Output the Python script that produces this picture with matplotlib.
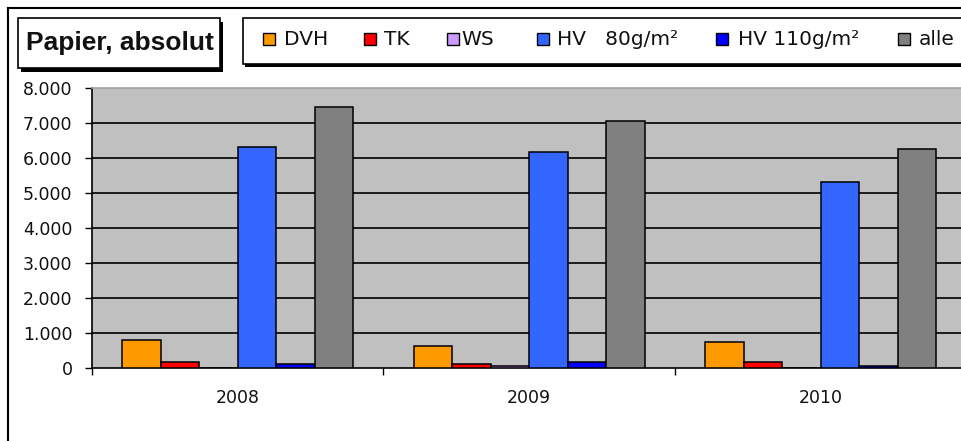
import numpy as np
import matplotlib
matplotlib.use("Agg")
import matplotlib.pyplot as plt
from matplotlib.patches import Rectangle
from matplotlib.lines import Line2D

# Daten
jahre = ["2008", "2009", "2010"]
serien = ["DVH", "TK", "WS", "HV   80g/m²", "HV 110g/m²", "alle"]
dvh = [790, 640, 730]
tk = [180, 120, 180]
ws = [0, 60, 0]
hv80 = [6320, 6160, 5300]
hv110 = [120, 170, 50]
alle = [7470, 7070, 6270]
farben = ["#FF9900", "#FF0000", "#CC99FF", "#3366FF", "#0000FF", "#808080"]
y_ticks = [0, 1000, 2000, 3000, 4000, 5000, 6000, 7000, 8000]
y_labels = ["0", "1.000", "2.000", "3.000", "4.000", "5.000", "6.000", "7.000", "8.000"]

W, H = 962, 441
fig = plt.figure(figsize=(W / 100, H / 100), dpi=100)
fig.patch.set_facecolor("white")


def fx(x):
    return x / W


def fy(y):
    return 1 - y / H


# Rahmen des Diagramms (nur links/oben sichtbar)
fig.add_artist(Line2D([fx(8), fx(W + 5)], [fy(8), fy(8)], color="black", lw=1.5))
fig.add_artist(Line2D([fx(8), fx(8)], [fy(8), fy(H + 5)], color="black", lw=1.5))

# Zeichenfläche, rechts über den Bildrand hinaus
ax = fig.add_axes([fx(92), fy(368), (966.5 - 92) / W, (368 - 88) / H])
ax.set_facecolor("#C0C0C0")

x = np.arange(len(jahre))
bw = 0.132
werte = [dvh, tk, ws, hv80, hv110, alle]
for i, (name, v) in enumerate(zip(serien, werte)):
    ax.bar(x + (i - 2.5) * bw, v, bw, color=farben[i], edgecolor="black",
           linewidth=1.1, zorder=3)

ax.set_xlim(-0.5, 2.5)
ax.set_ylim(0, 8000)
ax.set_yticks(y_ticks)
ax.set_yticklabels(y_labels)
for t in y_ticks[1:-1]:
    ax.axhline(t, color="black", lw=1.2, zorder=1)

ax.set_xticks([-0.5, 0.5, 1.5, 2.5])
ax.set_xticklabels([])
ax.set_xticks(x, minor=True)
ax.set_xticklabels(jahre, minor=True)
ax.tick_params(axis="x", which="major", length=5, width=1, direction="out")
ax.tick_params(axis="x", which="minor", length=0, pad=15, labelsize=12.5)
ax.tick_params(axis="y", length=5, width=1, direction="out", pad=9, labelsize=12.5)
for lab in ax.get_xticklabels(minor=True) + ax.get_yticklabels():
    lab.set_color("#111111")

ax.spines["right"].set_visible(False)
ax.spines["top"].set_color("#A0A0A0")
ax.spines["top"].set_linewidth(1.2)
ax.spines["left"].set_linewidth(1.2)
ax.spines["bottom"].set_linewidth(1.2)

# Titelbox mit Schatten
fig.add_artist(Rectangle((fx(21), fy(71.5)), fx(202), 50 / H, transform=fig.transFigure,
                         facecolor="black", edgecolor="black", lw=0))
fig.add_artist(Rectangle((fx(18), fy(68)), fx(202), 50 / H, transform=fig.transFigure,
                         facecolor="white", edgecolor="black", lw=1.2))
fig.text(fx(120), fy(50), "Papier, absolut", ha="center", va="baseline",
         fontsize=19, fontweight="bold", family="Liberation Sans", color="#111111")

# Legende mit Schatten
fig.add_artist(Rectangle((fx(245), fy(66.5)), fx(W), 46 / H, transform=fig.transFigure,
                         facecolor="black", edgecolor="black", lw=0))
fig.add_artist(Rectangle((fx(243), fy(64)), fx(W), 46 / H, transform=fig.transFigure,
                         facecolor="white", edgecolor="black", lw=1.2))
marker_x = [269, 370.5, 453, 542.5, 722.5, 904]
text_x = [284, 384, 461, 557, 738, 919]
for i, name in enumerate(serien):
    fig.add_artist(Rectangle((fx(marker_x[i] - 6), fy(45)), fx(12), 12 / H,
                             transform=fig.transFigure, facecolor=farben[i],
                             edgecolor="black", lw=1))
    fig.text(fx(text_x[i]), fy(39.5), name, ha="left", va="center",
             fontsize=14.5, color="#111111")

fig.savefig("out.png", dpi=100)
